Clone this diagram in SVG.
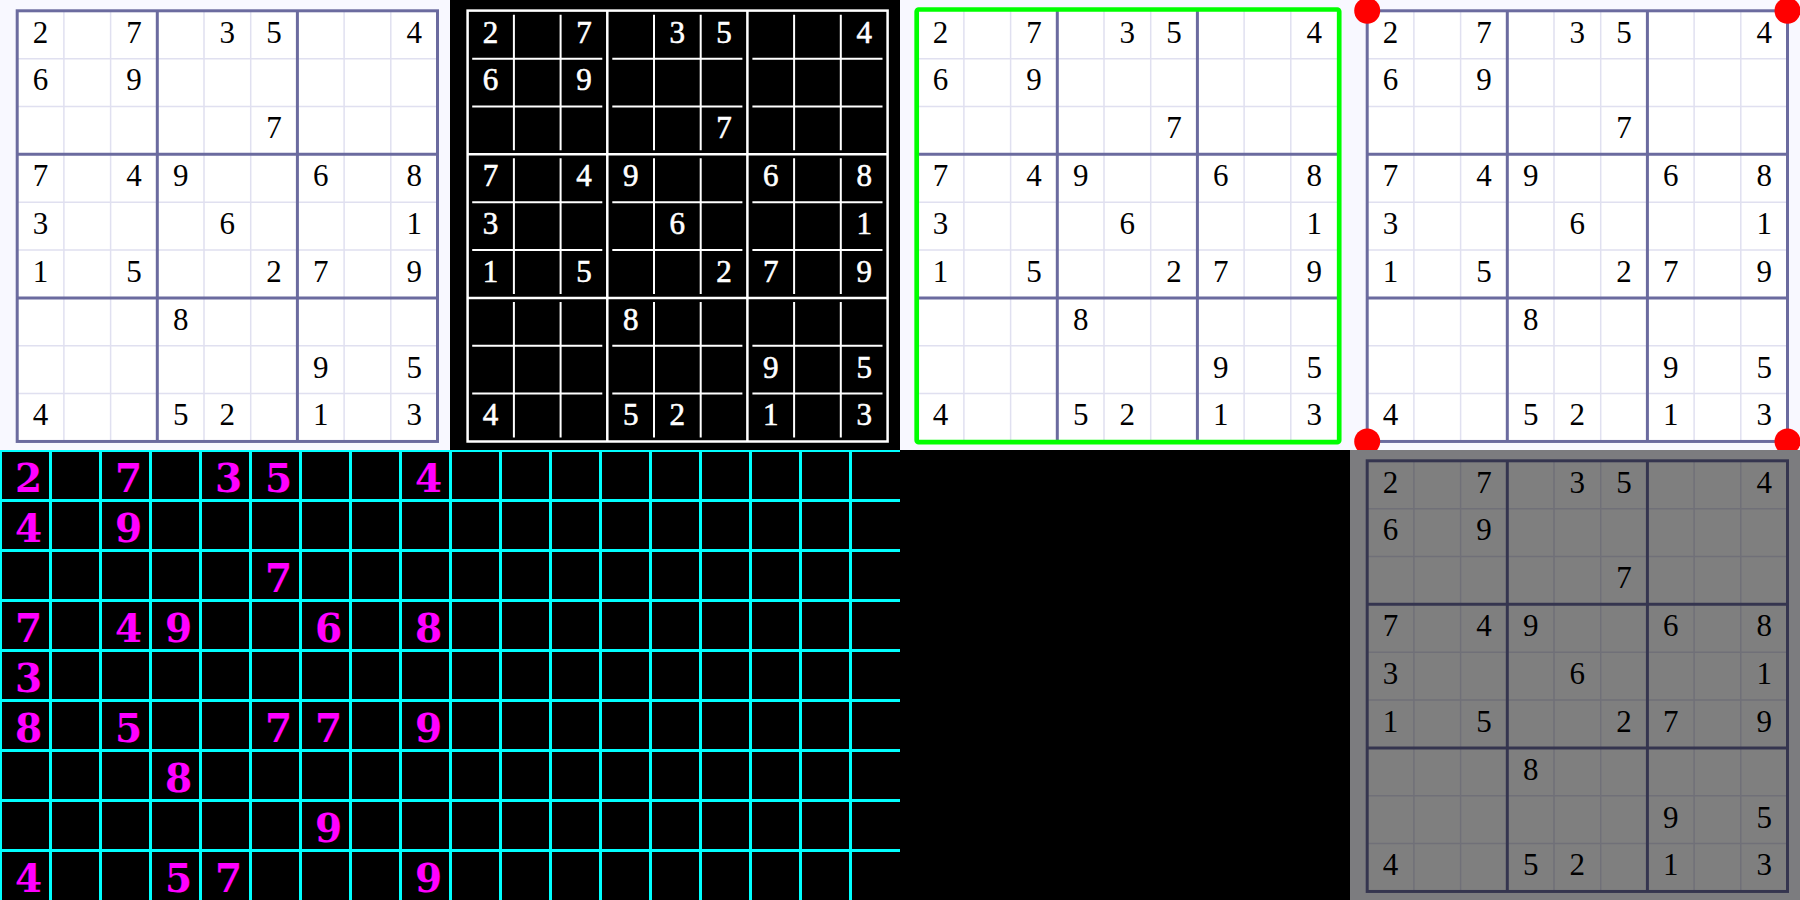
<svg xmlns="http://www.w3.org/2000/svg" xmlns:xlink="http://www.w3.org/1999/xlink" width="1800" height="900" viewBox="0 0 1800 900">
<style>
.thin{stroke:#e0e0f0;stroke-width:1.5;fill:none}
.thick{stroke:#6b6b9f;stroke-width:3;fill:none}
.dig{font-family:"Liberation Serif","Times New Roman",serif;font-size:31px;text-anchor:middle;fill:#000}
.wdig{font-family:"Liberation Serif","Times New Roman",serif;font-size:31px;text-anchor:middle;fill:#fff;stroke:#fff;stroke-width:0.6}
.wthick{stroke:#fff;stroke-width:2.5;fill:none}
.wthin{stroke:#fff;stroke-width:2;fill:none}
.cyan{stroke:#00ffff;stroke-width:3;fill:none}
.mdig{font-family:"DejaVu Serif","Liberation Serif",serif;font-weight:bold;font-size:39px;text-anchor:middle;fill:#ff00ff}
</style>
<defs>
<clipPath id="clipBL"><rect x="0" y="450" width="900" height="450"/></clipPath>
<g id="gridlines">
<rect x="0" y="0" width="450" height="450" fill="#f8f8ff"/>
<rect x="17.2" y="10.8" width="420.3" height="430.65" fill="#ffffff"/>
<path class="thin" d="M63.9 10.8V441.45M110.6 10.8V441.45M204 10.8V441.45M250.7 10.8V441.45M344.1 10.8V441.45M390.8 10.8V441.45M17.2 58.65H437.5M17.2 106.5H437.5M17.2 202.2H437.5M17.2 250.05H437.5M17.2 345.75H437.5M17.2 393.6H437.5"/>
<path class="thick" d="M157.3 10.8V441.45M297.4 10.8V441.45M17.2 154.35H437.5M17.2 297.9H437.5"/>
</g>
<g id="digits">
<text x="40.55" y="42.6">2</text><text x="133.95" y="42.6">7</text><text x="227.35" y="42.6">3</text><text x="274.05" y="42.6">5</text><text x="414.15" y="42.6">4</text>
<text x="40.55" y="90.45">6</text><text x="133.95" y="90.45">9</text>
<text x="274.05" y="138.3">7</text>
<text x="40.55" y="186.15">7</text><text x="133.95" y="186.15">4</text><text x="180.65" y="186.15">9</text><text x="320.75" y="186.15">6</text><text x="414.15" y="186.15">8</text>
<text x="40.55" y="234">3</text><text x="227.35" y="234">6</text><text x="414.15" y="234">1</text>
<text x="40.55" y="281.85">1</text><text x="133.95" y="281.85">5</text><text x="274.05" y="281.85">2</text><text x="320.75" y="281.85">7</text><text x="414.15" y="281.85">9</text>
<text x="180.65" y="329.7">8</text>
<text x="320.75" y="377.55">9</text><text x="414.15" y="377.55">5</text>
<text x="40.55" y="425.4">4</text><text x="180.65" y="425.4">5</text><text x="227.35" y="425.4">2</text><text x="320.75" y="425.4">1</text><text x="414.15" y="425.4">3</text>
</g>
<g id="lightgrid">
<use xlink:href="#gridlines"/>
<rect class="thick" x="17.2" y="10.8" width="420.3" height="430.65"/>
<use xlink:href="#digits" class="dig"/>
</g>
</defs>

<g id="panel-original">
<use xlink:href="#lightgrid"/>
</g>

<g id="panel-threshold">
<rect x="450" y="0" width="450" height="450" fill="#000"/>
<path class="wthin" d="M472.2 58.65H602.3M472.2 106.5H602.3M472.2 202.2H602.3M472.2 250.05H602.3M472.2 345.75H602.3M472.2 393.6H602.3M612.3 58.65H742.4M612.3 106.5H742.4M612.3 202.2H742.4M612.3 250.05H742.4M612.3 345.75H742.4M612.3 393.6H742.4M752.4 58.65H882.5M752.4 106.5H882.5M752.4 202.2H882.5M752.4 250.05H882.5M752.4 345.75H882.5M752.4 393.6H882.5"/>
<path class="wthin" d="M513.9 14.8V150.35M560.6 14.8V150.35M654 14.8V150.35M700.7 14.8V150.35M794.1 14.8V150.35M840.8 14.8V150.35M513.9 158.35V293.9M560.6 158.35V293.9M654 158.35V293.9M700.7 158.35V293.9M794.1 158.35V293.9M840.8 158.35V293.9M513.9 301.9V437.45M560.6 301.9V437.45M654 301.9V437.45M700.7 301.9V437.45M794.1 301.9V437.45M840.8 301.9V437.45"/>
<path class="wthick" d="M607.3 10.8V441.45M747.4 10.8V441.45M467.2 154.35H887.5M467.2 297.9H887.5"/>
<rect class="wthick" x="467.6" y="10.6" width="420" height="430.9"/>
<use xlink:href="#digits" class="wdig" transform="translate(450 0)"/>
</g>

<g id="panel-contour" transform="translate(900 0)">
<use xlink:href="#gridlines"/>
<use xlink:href="#digits" class="dig"/>
<rect x="16.7" y="9.5" width="422.5" height="432.7" rx="2" fill="none" stroke="#00ff00" stroke-width="4.7"/>
</g>

<g id="panel-corners" transform="translate(1350 0)">
<use xlink:href="#lightgrid"/>
<circle cx="17.2" cy="10.8" r="13" fill="#ff0000"/>
<circle cx="437.5" cy="10.8" r="13" fill="#ff0000"/>
<circle cx="17.2" cy="441.45" r="13" fill="#ff0000"/>
<circle cx="437.5" cy="441.45" r="13" fill="#ff0000"/>
</g>

<g id="panel-cells" clip-path="url(#clipBL)">
<rect x="0" y="450" width="900" height="450" fill="#000"/>
<path class="cyan" d="M0.5 450V900M50.5 450V900M100.5 450V900M150.5 450V900M200.5 450V900M250.5 450V900M300.5 450V900M350.5 450V900M400.5 450V900M450.5 450V900M500.5 450V900M550.5 450V900M600.5 450V900M650.5 450V900M700.5 450V900M750.5 450V900M800.5 450V900M850.5 450V900"/>
<path class="cyan" d="M0 450.5H900M0 500.5H900M0 550.5H900M0 600.5H900M0 650.5H900M0 700.5H900M0 750.5H900M0 800.5H900M0 850.5H900"/>
<g class="mdig">
<text x="28.5" y="492">2</text><text x="128.5" y="492">7</text><text x="228.5" y="492">3</text><text x="278.5" y="492">5</text><text x="428.5" y="492">4</text>
<text x="28.5" y="542">4</text><text x="128.5" y="542">9</text>
<text x="278.5" y="592">7</text>
<text x="28.5" y="642">7</text><text x="128.5" y="642">4</text><text x="178.5" y="642">9</text><text x="328.5" y="642">6</text><text x="428.5" y="642">8</text>
<text x="28.5" y="692">3</text>
<text x="28.5" y="742">8</text><text x="128.5" y="742">5</text><text x="278.5" y="742">7</text><text x="328.5" y="742">7</text><text x="428.5" y="742">9</text>
<text x="178.5" y="792">8</text>
<text x="328.5" y="842">9</text>
<text x="28.5" y="892">4</text><text x="178.5" y="892">5</text><text x="228.5" y="892">7</text><text x="428.5" y="892">9</text>
</g>
</g>

<g id="panel-empty">
<rect x="900" y="450" width="450" height="450" fill="#000"/>
</g>

<g id="panel-dimmed">
<g transform="translate(1350 450)">
<use xlink:href="#lightgrid"/>
</g>
<rect x="1350" y="450" width="450" height="450" fill="#000" fill-opacity="0.5"/>
</g>
</svg>
